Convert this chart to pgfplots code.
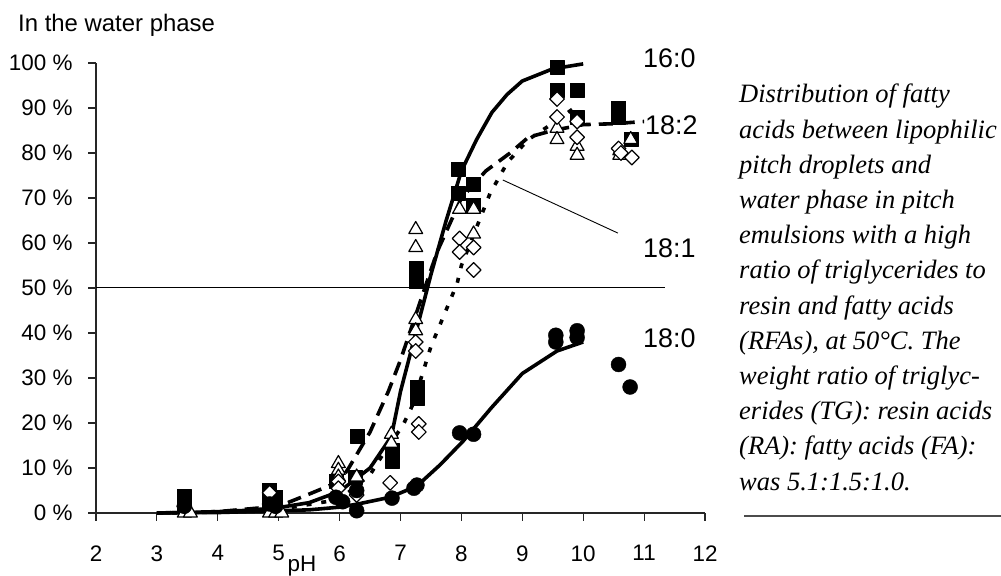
\documentclass[border=0pt]{standalone}
\usepackage{fontspec}
\setmainfont{Liberation Sans}
\newfontfamily\capfont{Liberation Serif}
\usepackage{pgfplots}
\pgfplotsset{compat=1.18}
\begin{document}
\begin{tikzpicture}[x=1bp,y=1bp]
\useasboundingbox (0,0) rectangle (1001,576);
\begin{axis}[
 at={(96bp,63bp)}, anchor=south west, scale only axis,
 width=609bp, height=450bp,
 xmin=2, xmax=12, ymin=0, ymax=100,
 axis x line=bottom, axis y line=left,
 axis line style={-, line width=1.1bp, black!85},
 tick style={line width=1.1bp, black!85},
 tick align=outside, major tick length=8bp,
 xtick={2,...,12}, ytick={0,10,...,100},
 xticklabel={\pgfmathprintnumber[assume math mode=true]{\tick}},
 yticklabel={\pgfmathprintnumber[assume math mode=true]{\tick} \%},
 tick label style={font=\fontsize{22.5}{26}\selectfont},
 xticklabel style={yshift=-21bp},
 yticklabel style={xshift=-12bp},
 clip=false,
 line join=round,
]
% horizontal 50% line
\addplot[black, line width=1bp] coordinates {(2,50) (11.34,50)};
% fitted curves
\addplot[black, line width=3.6bp] coordinates {
 (3,0) (3.5,0.1) (4,0.3) (4.5,0.6) (5,1.2) (5.5,2.3) (6,4.8) (6.5,10) (6.85,17)
 (7.0,27) (7.25,40) (7.5,53) (7.75,65) (8.0,76) (8.25,83) (8.5,89) (8.75,93)
 (9.0,96) (9.5,98.7) (10.0,99.8)};
\addplot[black, line width=3.6bp, dash pattern=on 14bp off 8bp] coordinates {
 (3,0) (4,0.3) (5,1.5) (5.5,4.2) (6.0,7) (6.15,10) (6.5,18) (6.8,27) (7.0,34)
 (7.3,46) (7.6,58) (8.0,70) (8.4,76) (8.8,80) (9.1,83.5) (9.5,85) (10.0,86.3)
 (10.5,86.5) (11.0,87)};
\addplot[black, line width=3.6bp, dash pattern=on 5bp off 10bp] coordinates {
 (3,0) (4,0.2) (5,0.8) (6,3) (6.5,8.5) (6.7,12.8) (7.04,19.5) (7.2,24) (7.5,37)
 (7.93,51) (8.0,55) (8.47,71) (8.76,78) (9.1,83) (9.6,87.5) (9.95,91)};
\addplot[black, line width=3.6bp] coordinates {
 (3,0) (4,0.1) (5,0.5) (5.5,0.7) (6,1.3) (6.3,2) (6.83,3.5) (7.27,6) (7.65,10.7)
 (8.03,16) (8.5,23.5) (9.0,31) (9.57,36) (10.0,38)};
% pointer line for 18:1
\addplot[black, line width=0.9bp] coordinates {(8.68,74) (10.57,62.2)};
% 16:0 squares
\addplot[only marks, mark=square*, mark size=7bp, black] coordinates {
 (3.45,3.8) (3.45,2.0) (4.85,5.0) (4.95,3.5) (4.85,2.0) (5.95,7.0) (6.25,8.0)
 (6.29,17.1) (6.86,11.5) (6.86,14) (7.27,25.5) (7.27,28) (7.25,51.5) (7.25,54.5)
 (7.95,76.5) (7.95,71) (8.2,73) (8.2,68.5) (9.57,99) (9.57,94) (9.9,94) (9.9,88)
 (10.58,90) (10.58,88) (10.78,83)};
% 18:2 triangles
\addplot[only marks, mark=triangle*, mark size=8bp, mark options={fill=white, draw=black, line width=1.2bp}] coordinates {
 (3.45,0) (3.55,0) (4.85,0) (4.95,0) (5.05,0) (5.98,11) (5.98,9.5) (5.98,8)
 (6.28,8) (6.85,17.5) (6.85,15.5) (7.25,63) (7.25,59) (7.25,43) (7.25,40.5)
 (7.97,67.5) (8.2,67.5) (8.2,62) (9.57,85.5) (9.57,83) (9.9,81.5) (9.9,79.5)
 (10.6,80.5) (10.6,79.5) (10.78,83)};
% 18:1 diamonds
\addplot[only marks, mark=square*, mark size=5.2bp, mark options={rotate=45, fill=white, draw=black, line width=1.2bp}] coordinates {
 (3.45,1.5) (4.85,4.5) (4.95,1.5) (5.98,7) (5.98,5.5) (6.28,4) (6.83,6.7)
 (7.3,19.8) (7.3,18) (7.25,38) (7.25,36) (7.97,61) (7.97,58) (8.2,59) (8.2,54)
 (9.57,92) (9.57,88) (9.9,87) (9.9,83.5) (10.58,81) (10.62,80) (10.8,79)};
% 18:0 circles
\addplot[only marks, mark=*, mark size=7.5bp, black] coordinates {
 (3.45,1.5) (4.85,2) (4.95,1.5) (5.94,3.5) (6.05,2.5) (6.28,5) (6.28,0.5)
 (6.86,3.3) (7.27,6.2) (7.22,5.5) (7.97,17.8) (8.2,17.5) (9.55,39.5) (9.55,38)
 (9.9,40.5) (9.9,39) (10.58,33) (10.77,28)};
\end{axis}
% texts
\node[anchor=base west, inner sep=0, font=\fontsize{24}{28}\selectfont] at (18,544) {In the water phase};
\node[anchor=base, inner sep=0, font=\fontsize{22.5}{26}\selectfont] at (302,4) {pH};
\begin{scope}[every node/.style={anchor=west, inner sep=0, font=\fontsize{27}{32}\selectfont}]
\node at (643,518) {16:0};
\node at (645,450.5) {18:2};
\node at (643,328) {18:1};
\node at (643,238) {18:0};
\end{scope}
\begin{scope}[every node/.style={anchor=base west, inner sep=0, font=\capfont\itshape\fontsize{26.6}{32}\selectfont}]
\node at (739,473.0) {Distribution of fatty};
\node at (739,437.8) {acids between lipophilic};
\node at (739,402.6) {pitch droplets and};
\node at (739,367.4) {water phase in pitch};
\node at (739,332.2) {emulsions with a high};
\node at (739,297.0) {ratio of triglycerides to};
\node at (739,261.8) {resin and fatty acids};
\node at (739,226.6) {(RFAs), at 50°C. The};
\node at (739,191.4) {weight ratio of triglyc-};
\node at (739,156.2) {erides (TG): resin acids};
\node at (739,121.0) {(RA): fatty acids (FA):};
\node at (739,85.8) {was 5.1:1.5:1.0.};
\end{scope}
\draw[line width=1.2bp, black!70] (744,60) -- (1001,60);
\end{tikzpicture}
\end{document}
